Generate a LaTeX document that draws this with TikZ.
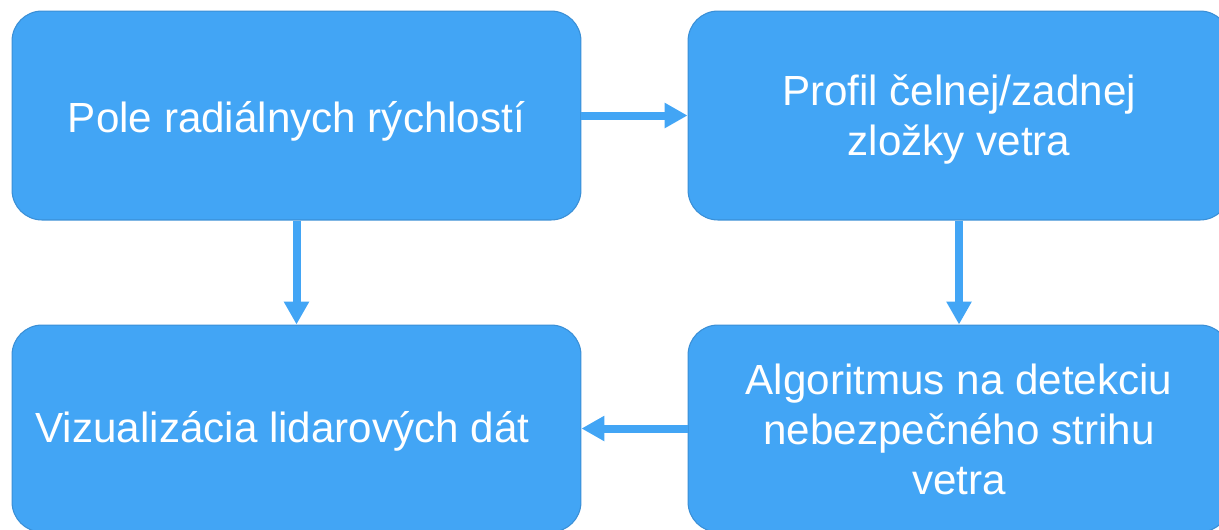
\documentclass[tikz,border=0pt]{standalone}
\usepackage{fontspec}
\setmainfont{Liberation Sans}
\usepackage{tikz}
\usepackage{xcolor}
\usetikzlibrary{arrows.meta, positioning}

\definecolor{boxblue}{HTML}{42A5F5}
\definecolor{edgeblue}{HTML}{3A8FD6}

\begin{document}
\begin{tikzpicture}[x=0.02cm, y=-0.02cm,
    stagebox/.style={draw=edgeblue, line width=0.6pt, fill=boxblue, rounded corners=0.6cm, inner sep=0pt},
    stagetext/.style={text=white, align=center, font=\fontsize{24}{28.5}\selectfont, inner sep=0pt},
    flow/.style={draw=boxblue, line width=0.16cm, -{Triangle[length=0.46cm, width=0.48cm]}}]
    \clip (0,0) rectangle (1219,529);

    % Top row
    \node[stagebox, minimum width=11.38cm, minimum height=4.18cm] (pole) at (296.5,115.5) {};
    \node[stagebox, minimum width=10.84cm, minimum height=4.18cm] (profil) at (959,115.5) {};
    \node[stagetext] (pole-text) at ([yshift=-0.11cm]pole.center) {Pole radiálnych rýchlostí};
    \node[stagetext] (profil-text) at ([yshift=-0.08cm]profil.center) {Profil čelnej/zadnej\\zložky vetra};

    % Bottom row
    \node[stagebox, minimum width=11.38cm, minimum height=4.14cm] (vizual) at (296.5,428.5) {};
    \node[stagebox, minimum width=10.84cm, minimum height=4.14cm] (algo) at (959,428.5) {};
    \node[stagetext] (vizual-text) at ([xshift=-0.28cm, yshift=-0.06cm]vizual.center) {Vizualizácia lidarových dát};
    \node[stagetext] (algo-text) at ([yshift=-0.02cm]algo.center) {Algoritmus na detekciu\\nebezpečného strihu\\vetra};

    % Flow
    \draw[flow] (pole) -- (profil);
    \draw[flow] (pole) -- (vizual);
    \draw[flow] (profil) -- (algo);
    \draw[flow] (algo) -- (vizual);
\end{tikzpicture}
\end{document}
